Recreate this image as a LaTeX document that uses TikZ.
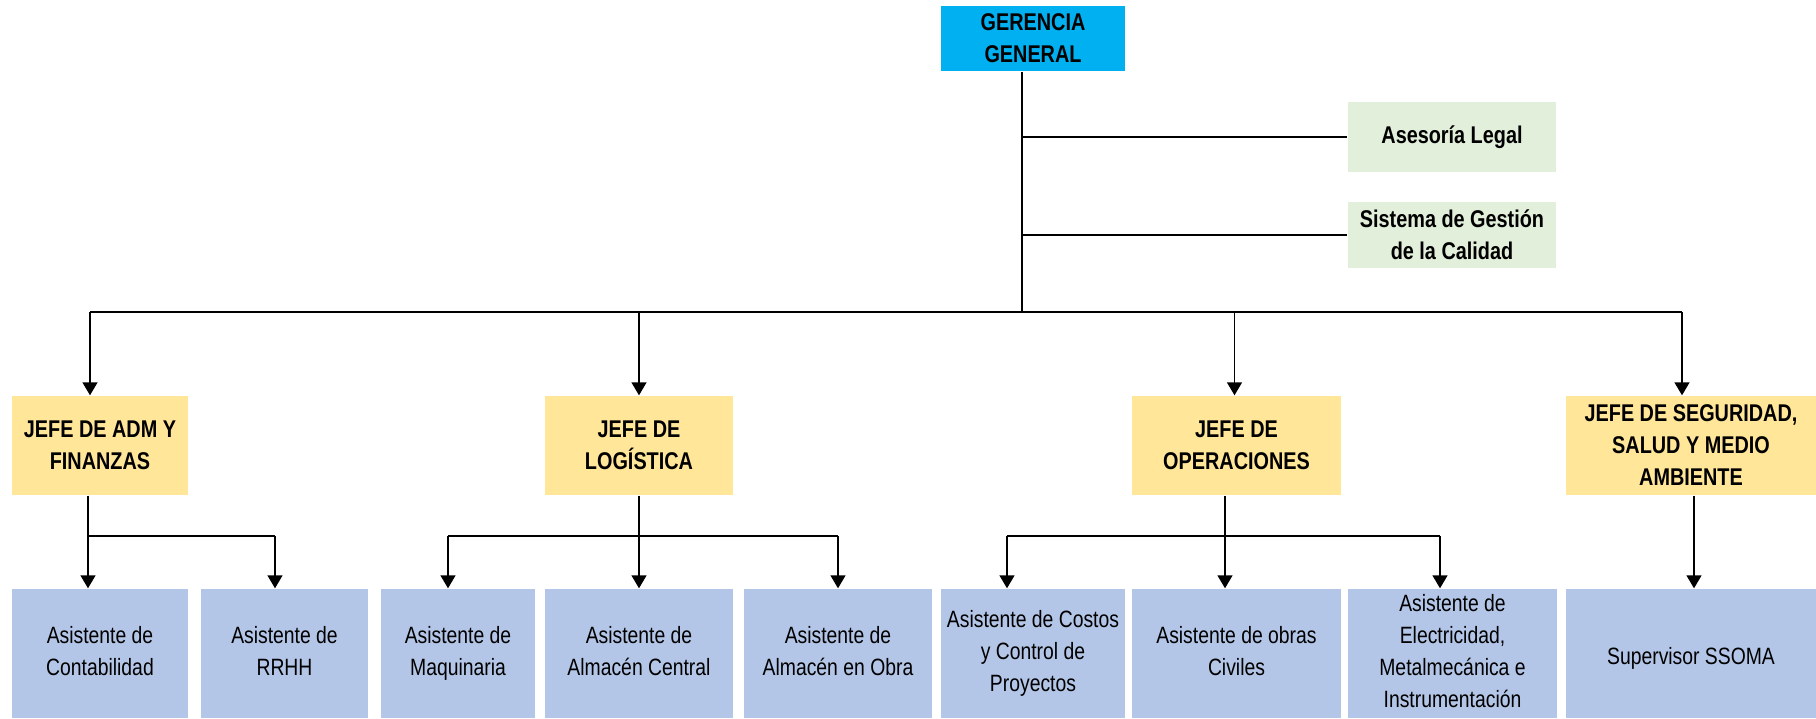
\documentclass[tikz,border=0pt]{standalone}
\usepackage{fontspec}
\setmainfont{Liberation Sans}[FakeStretch=0.82]
\usetikzlibrary{arrows.meta,positioning}

\definecolor{gercol}{HTML}{00B0F0}
\definecolor{staffcol}{HTML}{E2EFDA}
\definecolor{jefecol}{HTML}{FFE699}
\definecolor{asiscol}{HTML}{B4C6E7}

\begin{document}
\begin{tikzpicture}[x=0.5pt,y=-0.5pt,line width=0.7pt,
    box/.style={inner sep=1pt,align=center,font=\fontsize{11.8}{16}\selectfont},
    gerbox/.style={box,fill=gercol,font=\fontsize{12.1}{16}\selectfont\bfseries,
      minimum width=92pt,minimum height=32.5pt},
    staffbox/.style={box,fill=staffcol,font=\fontsize{12.1}{16}\selectfont\bfseries,
      minimum width=104pt},
    jefebox/.style={box,fill=jefecol,font=\fontsize{12.1}{16}\selectfont\bfseries,
      minimum height=49.5pt},
    asisbox/.style={box,fill=asiscol,minimum height=64.5pt,
      execute at begin node=\rule{0pt}{13.4pt},
      execute at end node=\rule[-2.6pt]{0pt}{0pt}},
    arr/.style={-{Triangle[width=7.5pt,length=6.5pt]}}]
  \useasboundingbox (0,0) rectangle (1816,718);

  % levels of the connector buses
  \coordinate (lvlA) at (0,312);
  \coordinate (lvlB) at (0,536);
  \coordinate (trunk) at (1022,312);

  % top
  \node[gerbox] (ger) at (1033,38.5) {GERENCIA\\GENERAL};
  \node[staffbox,minimum height=35pt] (legal) at (1452,137) {Asesoría Legal};
  \node[staffbox,minimum height=33pt] (sgc) at (1452,235) {Sistema de Gestión\\de la Calidad};

  % jefes
  \node[jefebox,minimum width=88pt]    (adm) at (100,445.5)    {JEFE DE ADM Y\\FINANZAS};
  \node[jefebox,minimum width=94pt]    (log) at (639,445.5)    {JEFE DE\\LOGÍSTICA};
  \node[jefebox,minimum width=104.5pt] (ope) at (1236.5,445.5) {JEFE DE\\OPERACIONES};
  \node[jefebox,minimum width=125pt]   (seg) at (1691,445.5)   {JEFE DE SEGURIDAD,\\SALUD Y MEDIO\\AMBIENTE};

  % asistentes
  \node[asisbox,minimum width=88pt]    (cont) at (100,653.5)    {Asistente de\\Contabilidad};
  \node[asisbox,minimum width=83.5pt]  (rrhh) at (284.5,653.5)  {Asistente de\\RRHH};
  \node[asisbox,minimum width=77pt]    (maq)  at (458,653.5)    {Asistente de\\Maquinaria};
  \node[asisbox,minimum width=94pt]    (alc)  at (639,653.5)    {Asistente de\\Almacén Central};
  \node[asisbox,minimum width=94pt]    (alo)  at (838,653.5)    {Asistente de\\Almacén en Obra};
  \node[asisbox,minimum width=92pt]    (cos)  at (1033,653.5)   {Asistente de Costos\\y Control de\\Proyectos};
  \node[asisbox,minimum width=104.5pt] (civ)  at (1236.5,653.5) {Asistente de obras\\Civiles};
  \node[asisbox,minimum width=104.5pt] (ele)  at (1452.5,653.5) {Asistente de\\Electricidad,\\Metalmecánica e\\Instrumentación};
  \node[asisbox,minimum width=125pt]   (sso)  at (1691,653.5)   {Supervisor SSOMA};

  % gerencia
  \draw (ger.south -| trunk) -- (trunk);
  \draw (legal.west -| trunk) -- (legal.west);
  \draw (sgc.west -| trunk) -- (sgc.west);
  \draw ([xshift=-5pt]adm.north |- lvlA) -- ([xshift=-4.5pt]seg.north |- lvlA);
  \draw[arr] ([xshift=-5pt]adm.north |- lvlA) -- ([xshift=-5pt]adm.north);
  \draw[arr] (log.north |- lvlA) -- (log.north);
  \draw[arr] ([xshift=-1pt]ope.north |- lvlA) -- ([xshift=-1pt]ope.north);
  \draw[arr] ([xshift=-4.5pt]seg.north |- lvlA) -- ([xshift=-4.5pt]seg.north);

  % adm y finanzas
  \draw[arr] ([xshift=-6pt]adm.south) -- ([xshift=-6pt]cont.north);
  \draw ([xshift=-6pt]adm.south |- lvlB) -- ([xshift=-4.75pt]rrhh.north |- lvlB);
  \draw[arr] ([xshift=-4.75pt]rrhh.north |- lvlB) -- ([xshift=-4.75pt]rrhh.north);

  % logistica
  \draw[arr] (log.south) -- (alc.north);
  \draw ([xshift=-5pt]maq.north |- lvlB) -- (alo.north |- lvlB);
  \draw[arr] ([xshift=-5pt]maq.north |- lvlB) -- ([xshift=-5pt]maq.north);
  \draw[arr] (alo.north |- lvlB) -- (alo.north);

  % operaciones
  \draw[arr] ([xshift=-5.75pt]ope.south) -- ([xshift=-5.75pt]civ.north);
  \draw ([xshift=-13pt]cos.north |- lvlB) -- ([xshift=-6.25pt]ele.north |- lvlB);
  \draw[arr] ([xshift=-13pt]cos.north |- lvlB) -- ([xshift=-13pt]cos.north);
  \draw[arr] ([xshift=-6.25pt]ele.north |- lvlB) -- ([xshift=-6.25pt]ele.north);

  % seguridad
  \draw[arr] ([xshift=1.5pt]seg.south) -- ([xshift=1.5pt]sso.north);
\end{tikzpicture}
\end{document}
